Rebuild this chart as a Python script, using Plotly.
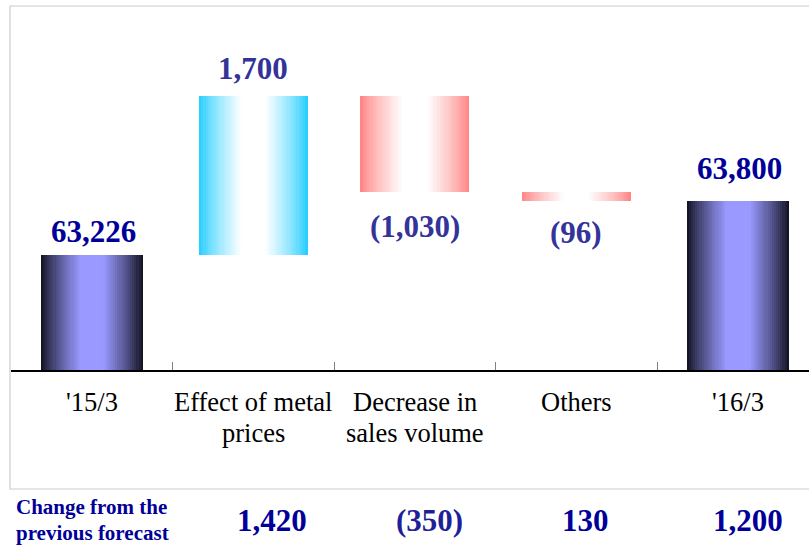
import plotly.graph_objects as go

# ---------------- data ----------------
categories = ["'15/3", "Effect of metal<br>prices", "Decrease in<br>sales volume", "Others", "'16/3"]
start_value = 63226
changes = [1700, -1030, -96]
end_value = 63800
axis_base = 62000
forecast_title = "Change from the<br>previous forecast"
forecast_changes = [1420, -350, 130, 1200]

# ---------------- derived bar geometry (from data) ----------------
kinds = ["total"] + ["up" if c >= 0 else "down" for c in changes] + ["total"]
bases, heights = [axis_base], [start_value - axis_base]
run = start_value
for c in changes:
    bases.append(run if c >= 0 else run + c)
    heights.append(abs(c))
    run += c
bases.append(axis_base)
heights.append(end_value - axis_base)
label_values = [start_value] + changes + [end_value]

def fmt(v):
    return f"({abs(v):,})" if v < 0 else f"{v:,}"

# ---------------- styles ----------------
FONT = "Liberation Serif"
widths = {"total": 0.632, "up": 0.675, "down": 0.675}
grad = {  # (edge, centre)
    "total": ((12, 12, 24), (153, 153, 255)),
    "up": ((30, 204, 255), (255, 255, 255)),
    "down": ((255, 128, 128), (255, 255, 255)),
}

def mix(kind, t):
    e, c = grad[kind]
    d = 1 - abs(2 * t - 1)
    s = min(1.0, d / 0.78) ** 0.8
    r, g, b = (round(e[k] + (c[k] - e[k]) * s) for k in range(3))
    return f"rgb({r},{g},{b})"

fig = go.Figure()
N = 48
xs = list(range(len(categories)))
for j in range(N):
    t = (j + 0.5) / N
    w_arr = [widths[k] for k in kinds]
    fig.add_trace(go.Bar(
        x=xs, y=heights, base=bases,
        width=[w / N * (1.6 if j < N - 1 else 1.0) for w in w_arr],
        offset=[-w / 2 + j * w / N for w in w_arr],
        marker=dict(color=[mix(k, t) for k in kinds], line=dict(width=0)),
        showlegend=False, hoverinfo="skip",
    ))

annotations = []
# value labels on bars
yshifts = [24, 27, -34, -31, 33]
for i, (k, v) in enumerate(zip(kinds, label_values)):
    if k == "down":
        yv = bases[i]
    else:
        yv = bases[i] + heights[i]
    annotations.append(dict(
        x=i, y=yv, xref="x", yref="y", text="<b>" + fmt(v) + "</b>", showarrow=False,
        yanchor="middle", yshift=yshifts[i], xshift=2 if k == "total" else 0,
        font=dict(family=FONT, size=31, color="#000099" if k == "total" else "#333399"),
    ))
# category labels (one annotation per line for tight line spacing)
for i, c in enumerate(categories):
    for li, line in enumerate(c.split("<br>")):
        annotations.append(dict(
            x=i, y=0, xref="x", yref="paper", text=line, showarrow=False,
            yanchor="middle", yshift=-32 - 31 * li, align="center",
            font=dict(family=FONT, size=26.5, color="#000000"),
        ))
# bottom row
for li, line in enumerate(forecast_title.split("<br>")):
    annotations.append(dict(
        x=0.0, y=0, xref="paper", yref="paper", text="<b>" + line + "</b>",
        showarrow=False, xanchor="left", yanchor="middle", align="left",
        yshift=-137 - 26 * li, xshift=3,
        font=dict(family=FONT, size=21, color="#000099"),
    ))
fc_shift = [19, 15, 9, 10]
for i, v in enumerate(forecast_changes):
    annotations.append(dict(
        x=i + 1, y=0, xref="x", yref="paper", text="<b>" + fmt(v) + "</b>",
        showarrow=False, yanchor="middle", xshift=fc_shift[i], yshift=-150,
        font=dict(family=FONT, size=31, color="#1f1f99" if v < 0 else "#000099"),
    ))

px_per_cat = 161.5
px_per_unit = 0.0938
plot_w = 809 - 11
plot_h = 545 - 6 - 175

fig.update_layout(
    width=809, height=545,
    margin=dict(l=11, r=0, t=6, b=175, pad=0),
    paper_bgcolor="white", plot_bgcolor="white",
    barmode="overlay", bargap=0,
    hovermode=False,
    xaxis=dict(
        range=[-0.5, -0.5 + plot_w / px_per_cat],
        showgrid=False, zeroline=False, showticklabels=False,
        showline=True, linecolor="#000000", linewidth=2,
        tickvals=[i + 0.5 for i in range(len(categories) - 1)],
        ticks="inside", ticklen=8, tickcolor="#808080", tickwidth=1,
        fixedrange=True,
    ),
    yaxis=dict(
        range=[axis_base, axis_base + plot_h / px_per_unit],
        visible=False, fixedrange=True,
    ),
    annotations=annotations,
    shapes=[dict(
        type="rect", xref="paper", yref="paper",
        x0=-1 / plot_w, x1=1.01, y0=-(489 - 370) / plot_h, y1=1.0,
        line=dict(color="#cccccc", width=1.2), layer="below",
    )],
)

fig.write_html(
    "out.html",
    config={"displayModeBar": False},
    post_script="document.body.style.margin='0';document.body.style.overflow='hidden';",
)
